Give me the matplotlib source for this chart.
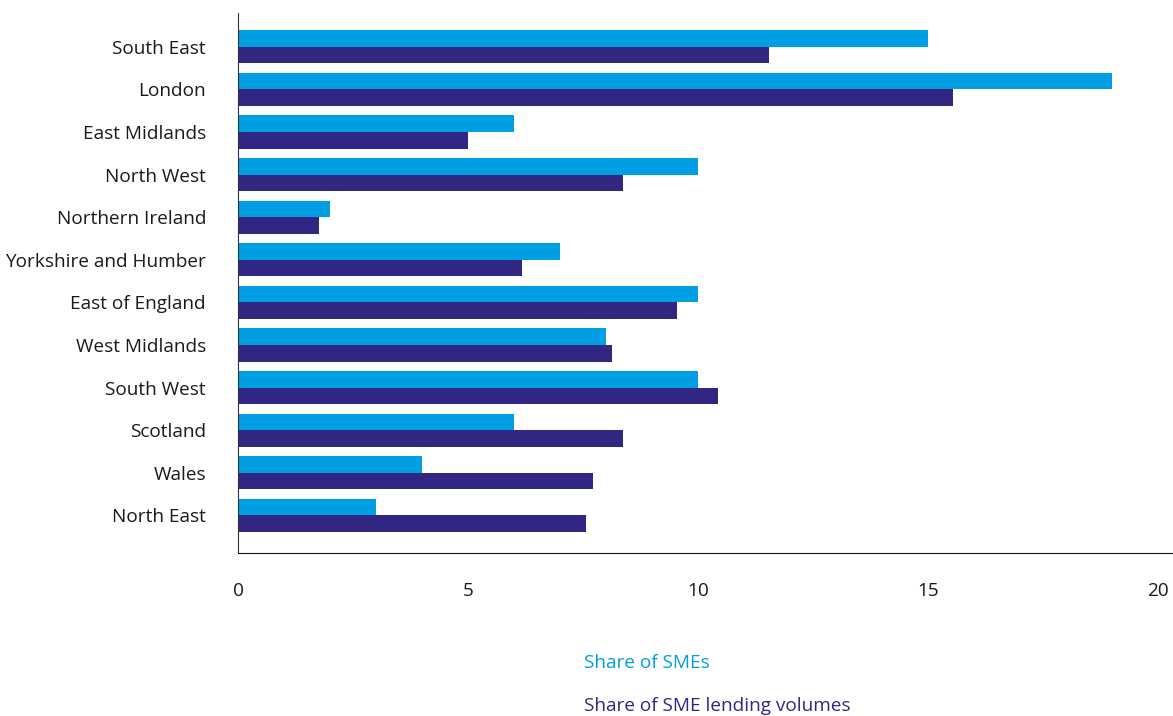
import matplotlib
matplotlib.use("Agg")
import matplotlib.pyplot as plt
import numpy as np

regions = ["South East", "London", "East Midlands", "North West", "Northern Ireland",
           "Yorkshire and Humber", "East of England", "West Midlands", "South West",
           "Scotland", "Wales", "North East"]
share_smes = [15.0, 19.0, 6.0, 10.0, 2.0, 7.0, 10.0, 8.0, 10.0, 6.0, 4.0, 3.0]
share_lending = [11.55, 15.54, 5.0, 8.37, 1.76, 6.17, 9.54, 8.13, 10.43, 8.37, 7.72, 7.57]
xticks = [0, 5, 10, 15, 20]

light = "#009FE3"
dark = "#312783"
plt.rcParams['font.family'] = ['Open Sans', 'DejaVu Sans']
fs = 13.7

fig = plt.figure(figsize=(11.73, 7.16), dpi=100)
ax = fig.add_axes([238/1173, 1 - 553/716, (1173-238)/1173, (553-13)/716])

y = np.arange(len(regions))
h = 0.39
ax.barh(y - h/2, share_smes, height=h, color=light, label="Share of SMEs")
ax.barh(y + h/2, share_lending, height=h, color=dark, label="Share of SME lending volumes")

ax.set_ylim(11.88, -0.79)
ax.set_xlim(0, (1173-238)/46)
ax.set_yticks(y)
ax.set_yticklabels(regions, fontsize=fs, color="#1a1a1a")
ax.set_xticks(xticks)
ax.set_xticklabels([str(t) for t in xticks], fontsize=fs, color="#1a1a1a")
ax.tick_params(axis='y', length=0, pad=23)
ax.tick_params(axis='x', length=0, pad=21)
ax.spines['top'].set_visible(False)
ax.spines['right'].set_visible(False)
ax.spines['left'].set_color("#333333")
ax.spines['bottom'].set_color("#111111")

fig.text(584/1173, 1 - 663/716, "Share of SMEs", color=light, fontsize=fs, va='center', ha='left')
fig.text(584/1173, 1 - 706/716, "Share of SME lending volumes", color=dark, fontsize=fs, va='center', ha='left')

fig.savefig("out.png", dpi=100)
